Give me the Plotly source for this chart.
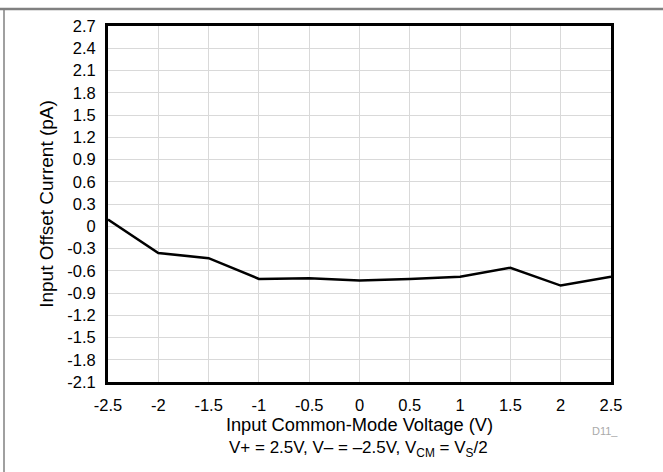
import plotly.graph_objects as go

vcm = [-2.5, -2.0, -1.5, -1.0, -0.5, 0.0, 0.5, 1.0, 1.5, 2.0, 2.5]
ios = [0.09, -0.36, -0.43, -0.71, -0.70, -0.73, -0.71, -0.68, -0.56, -0.80, -0.68]

x_ticks = [-2.5, -2, -1.5, -1, -0.5, 0, 0.5, 1, 1.5, 2, 2.5]
x_labels = ["-2.5", "-2", "-1.5", "-1", "-0.5", "0", "0.5", "1", "1.5", "2", "2.5"]
y_ticks = [-2.1, -1.8, -1.5, -1.2, -0.9, -0.6, -0.3, 0, 0.3, 0.6, 0.9, 1.2, 1.5, 1.8, 2.1, 2.4, 2.7]
y_labels = ["-2.1", "-1.8", "-1.5", "-1.2", "-0.9", "-0.6", "-0.3", "0", "0.3", "0.6",
            "0.9", "1.2", "1.5", "1.8", "2.1", "2.4", "2.7"]

FONT = "Liberation Sans, Arial, sans-serif"

fig = go.Figure()
fig.add_trace(go.Scatter(x=vcm, y=ios, mode="lines",
                         line=dict(color="black", width=2.5),
                         showlegend=False, cliponaxis=True))

L, R, T, B = 108, 52, 26, 90
W, H = 663, 472
pw = W - L - R
ph = H - T - B

def px_x(x):
    return (x - L) / pw

def px_y(y):
    return (H - B - y) / ph

fig.update_layout(
    width=W, height=H,
    margin=dict(l=L, r=R, t=T, b=B),
    paper_bgcolor="white", plot_bgcolor="white",
    font=dict(family=FONT, size=16, color="black"),
    xaxis=dict(range=[-2.5, 2.5], tickvals=x_ticks, ticktext=x_labels,
               showgrid=True, gridcolor="#d9d9d9", gridwidth=1,
               zeroline=False, showline=True, linecolor="black", linewidth=3,
               mirror=True, ticks="", tickfont=dict(size=16.5),
               ticklabelstandoff=6,
               title=dict(text="Input Common-Mode Voltage (V)", font=dict(size=18.3), standoff=6)),
    yaxis=dict(range=[-2.1, 2.7], tickvals=y_ticks, ticktext=y_labels,
               showgrid=True, gridcolor="#d9d9d9", gridwidth=1,
               zeroline=False, showline=True, linecolor="black", linewidth=3,
               mirror=True, ticks="", tickfont=dict(size=16.5),
               ticklabelstandoff=6,
               title=dict(text="Input Offset Current (pA)", font=dict(size=19), standoff=9)),
    shapes=[
        dict(type="line", xref="paper", yref="paper",
             x0=px_x(0), x1=px_x(W), y0=px_y(9), y1=px_y(9),
             line=dict(color="#808080", width=2.5)),
        dict(type="line", xref="paper", yref="paper",
             x0=px_x(4), x1=px_x(4), y0=px_y(8), y1=px_y(H),
             line=dict(color="#808080", width=1.5)),
    ],
    annotations=[
        dict(text="V+ = 2.5V, V\u2013 = \u20132.5V, V<sub>CM</sub> = V<sub>S</sub>/2",
             xref="paper", yref="paper", x=px_x(358), y=px_y(449),
             xanchor="center", yanchor="middle", showarrow=False,
             font=dict(size=17, color="black")),
        dict(text="D11_", xref="paper", yref="paper", x=px_x(605), y=px_y(431),
             xanchor="center", yanchor="middle", showarrow=False,
             font=dict(size=11, color="#aaaaaa")),
    ],
)

fig.write_html("out.html", config={"displayModeBar": False},
               post_script="document.body.style.margin='0';")
